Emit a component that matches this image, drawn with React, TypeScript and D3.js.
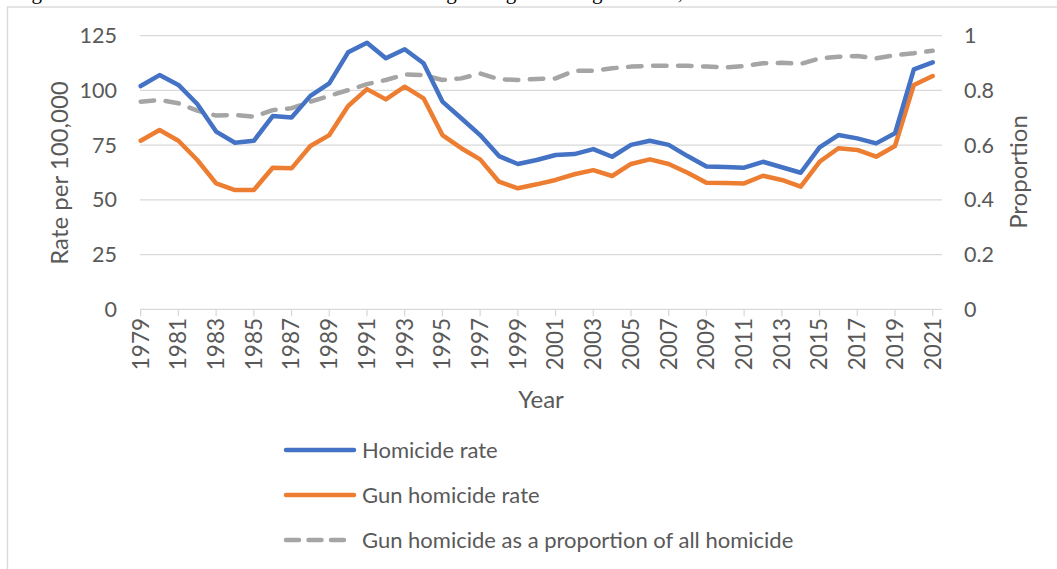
import React from "react";
import * as d3 from "d3";

const years: number[] = d3.range(1979, 2022);

const homicideRate: number[] = [
  102.0, 107.0, 102.5, 93.8, 81.2, 76.1, 77.0, 88.3, 87.6, 97.5,
  103.2, 117.4, 121.8, 114.7, 118.8, 112.4, 94.9, 87.3, 79.6, 70.0,
  66.4, 68.2, 70.5, 70.9, 73.2, 69.7, 75.1, 77.0, 75.1, 70.0,
  65.2, 65.0, 64.7, 67.4, 64.9, 62.4, 74.0, 79.6, 78.1, 75.8,
  80.4, 109.6, 112.8,
];

const gunHomicideRate: number[] = [
  77.0, 81.9, 77.0, 68.2, 57.5, 54.5, 54.5, 64.7, 64.4, 74.6,
  79.6, 92.9, 100.6, 95.9, 101.7, 96.4, 79.6, 73.6, 68.5, 58.3,
  55.3, 57.1, 59.1, 61.7, 63.6, 60.9, 66.4, 68.5, 66.4, 62.4,
  57.8, 57.7, 57.5, 61.0, 59.1, 56.0, 67.4, 73.6, 72.8, 69.7,
  74.6, 102.5, 106.6,
];

const gunProportion: number[] = [
  0.759, 0.765, 0.753, 0.726, 0.708, 0.710, 0.704, 0.728, 0.735, 0.759,
  0.780, 0.801, 0.823, 0.838, 0.858, 0.856, 0.838, 0.844, 0.862, 0.841,
  0.838, 0.842, 0.844, 0.872, 0.872, 0.881, 0.887, 0.890, 0.890, 0.890,
  0.887, 0.884, 0.889, 0.899, 0.901, 0.897, 0.917, 0.923, 0.926, 0.917,
  0.929, 0.936, 0.945,
];

const leftTicks: number[] = [0, 25, 50, 75, 100, 125];
const rightTicks: number[] = [0, 0.2, 0.4, 0.6, 0.8, 1];
const xTickYears: number[] = d3.range(1979, 2022, 2);

const seriesNames: string[] = [
  "Homicide rate",
  "Gun homicide rate",
  "Gun homicide as a proportion of all homicide",
];

const caption = "Figure 3 Homicide and Gun Homicide Rates Among Young Males Ages 15–24, 1979–2021";

const BLUE = "#4472C4";
const ORANGE = "#ED7D31";
const GRAY = "#A5A5A5";
const GRID = "#D9D9D9";
const TEXT = "#595959";
const FONT = "Lato, 'Open Sans', sans-serif";

export default function App() {
  const W = 1057;
  const H = 569;
  const plotLeft = 140;
  const plotRight = 942;
  const plotTop = 35.7;
  const plotBottom = 309.3;

  const x = d3.scaleLinear().domain([1979, 2021]).range([140.7, 932.7]);
  const yL = d3.scaleLinear().domain([0, 125]).range([plotBottom, plotTop]);
  const yR = d3.scaleLinear().domain([0, 1]).range([plotBottom, plotTop]);

  const lineL = d3
    .line<number>()
    .x((_, i) => x(years[i]))
    .y((d) => yL(d));
  const lineR = d3
    .line<number>()
    .x((_, i) => x(years[i]))
    .y((d) => yR(d));

  const legendX1 = 286;
  const legendYs = [450, 495, 540];
  const legendColors = [BLUE, ORANGE, GRAY];

  return (
    <svg
      width={W}
      height={H}
      style={{ position: "absolute", left: 0, top: 0, background: "#fff" }}
    >
      <text
        x={14}
        y={-1}
        fontFamily="'Liberation Serif', 'Times New Roman', serif"
        fontSize={21}
        fill="#000"
      >
        {caption}
      </text>
      <rect x={7.5} y={7} width={W} height={H} fill="none" stroke={GRID} strokeWidth={1.4} />

      {leftTicks.map((t) => (
        <line
          key={"g" + t}
          x1={plotLeft}
          x2={plotRight}
          y1={yL(t)}
          y2={yL(t)}
          stroke={GRID}
          strokeWidth={1.3}
        />
      ))}
      {xTickYears.map((yr) => (
        <line
          key={"t" + yr}
          x1={x(yr)}
          x2={x(yr)}
          y1={plotBottom}
          y2={plotBottom + 7}
          stroke={GRID}
          strokeWidth={1.3}
        />
      ))}

      {leftTicks.map((t) => (
        <text
          key={"l" + t}
          x={117}
          y={yL(t)}
          dy="0.35em"
          textAnchor="end"
          fontFamily={FONT}
          fontSize={21.5}
          fill={TEXT}
        >
          {t}
        </text>
      ))}
      {rightTicks.map((t) => (
        <text
          key={"r" + t}
          x={964}
          y={yR(t)}
          dy="0.35em"
          textAnchor="start"
          fontFamily={FONT}
          fontSize={21.5}
          fill={TEXT}
        >
          {d3.format("~g")(t)}
        </text>
      ))}
      {xTickYears.map((yr) => (
        <text
          key={"x" + yr}
          transform={`translate(${x(yr)},${318}) rotate(-90)`}
          dy="0.35em"
          textAnchor="end"
          fontFamily={FONT}
          fontSize={22.5}
          fill={TEXT}
        >
          {yr}
        </text>
      ))}

      <text
        transform={`translate(60,173) rotate(-90)`}
        dy="0.35em"
        textAnchor="middle"
        fontFamily={FONT}
        fontSize={24}
        fill={TEXT}
      >
        Rate per 100,000
      </text>
      <text
        transform={`translate(1019,172) rotate(-90)`}
        dy="0.35em"
        textAnchor="middle"
        fontFamily={FONT}
        fontSize={24}
        fill={TEXT}
      >
        Proportion
      </text>
      <text
        x={541}
        y={400}
        dy="0.35em"
        textAnchor="middle"
        fontFamily={FONT}
        fontSize={24}
        fill={TEXT}
      >
        Year
      </text>

      <path
        d={lineR(gunProportion) || ""}
        fill="none"
        stroke={GRAY}
        strokeWidth={4.5}
        strokeDasharray="13.5 11.5"
        strokeLinecap="round"
        strokeLinejoin="round"
      />
      <path
        d={lineL(gunHomicideRate) || ""}
        fill="none"
        stroke={ORANGE}
        strokeWidth={4.5}
        strokeLinecap="round"
        strokeLinejoin="round"
      />
      <path
        d={lineL(homicideRate) || ""}
        fill="none"
        stroke={BLUE}
        strokeWidth={4.5}
        strokeLinecap="round"
        strokeLinejoin="round"
      />

      {seriesNames.map((name, i) => (
        <g key={name}>
          <line
            x1={legendX1}
            x2={i === 2 ? 344 : 354}
            y1={legendYs[i]}
            y2={legendYs[i]}
            stroke={legendColors[i]}
            strokeWidth={4.5}
            strokeLinecap="round"
            strokeDasharray={i === 2 ? "13 9.5" : undefined}
          />
          <text
            x={362}
            y={legendYs[i]}
            dy="0.35em"
            fontFamily={FONT}
            fontSize={22}
            fill={TEXT}
          >
            {name}
          </text>
        </g>
      ))}
    </svg>
  );
}
